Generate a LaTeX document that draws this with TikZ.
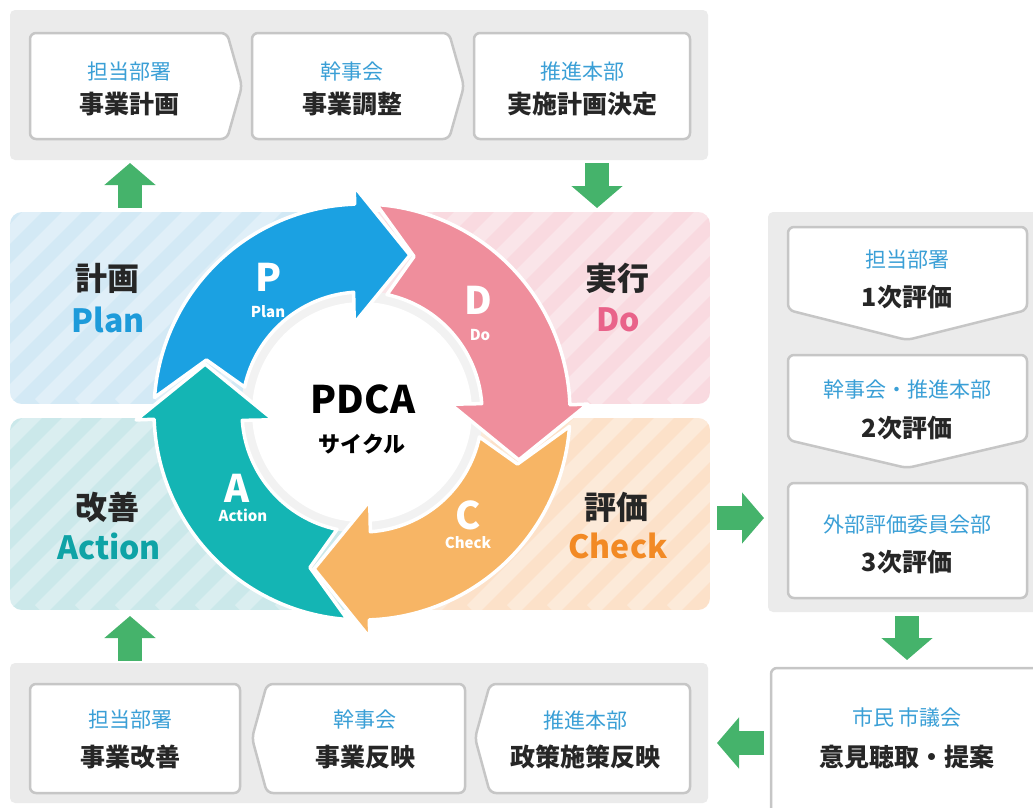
\documentclass[tikz,border=0pt]{standalone}
\usepackage{fontspec}
\setmainfont{Noto Sans CJK JP}
\usetikzlibrary{arrows.meta}
\usetikzlibrary{positioning}

\definecolor{panelgray}{HTML}{EBEBEB}
\definecolor{boxline}{HTML}{C6C6C6}
\definecolor{orgblue}{HTML}{3A9FD6}
\definecolor{flowgreen}{HTML}{45B36B}
\definecolor{planblue}{HTML}{1BA1E2}
\definecolor{dopink}{HTML}{EF8E9C}
\definecolor{checkorange}{HTML}{F7B565}
\definecolor{actteal}{HTML}{14B5B4}
\definecolor{planbg}{HTML}{D3E9F5}
\definecolor{dobg}{HTML}{F9DAE0}
\definecolor{actbg}{HTML}{CBE8EA}
\definecolor{checkbg}{HTML}{FCE1C9}
\definecolor{plantext}{HTML}{1E9BDA}
\definecolor{dotext}{HTML}{E9638A}
\definecolor{acttext}{HTML}{0FA3A6}
\definecolor{checktext}{HTML}{F28A25}

% striped quarter panel: colour, x1, y1, x2, y2
\newcommand{\hatchpanel}[5]{%
  \begin{scope}
    \clip[rounded corners=12pt] (#2,#3) rectangle (#4,#5);
    \fill[#1] (#2,#3) rectangle (#4,#5);
    \foreach \s in {0,40,...,600}
      \draw[white, opacity=.3, line width=14pt] ({#2+\s-250},#5) -- ++(250,-250);
  \end{scope}}

% one quarter of the cycle: rotation, colour
\newcommand{\cyclearrow}[2]{%
  \filldraw[fill=#2, draw=white, line width=3.5pt, line join=round, rotate=#1]
    (176:208) arc[start angle=176, end angle=92, radius=208]
    -- (92:226) -- (73:164) -- (95:89) -- (94:120)
    arc[start angle=94, end angle=168, radius=120]
    -- (161.5:164) -- cycle;}

\begin{document}
\begin{tikzpicture}[x=1pt,y=-1pt,
  panel/.style={fill=panelgray, rounded corners=5pt},
  stepbox/.style={draw=boxline, line width=2.5pt, fill=white, rounded corners=6pt, line join=round},
  who/.style={text=orgblue, font=\fontsize{21}{21}\selectfont},
  what/.style={text=black!85, font=\bfseries\fontsize{25}{25}\selectfont},
  flow/.style={draw=flowgreen, line width=24pt, -{Triangle[length=22pt,width=50pt]}},
  big/.style={font=\bfseries\fontsize{32}{32}\selectfont},
  ringletter/.style={text=white, font=\bfseries\fontsize{38}{38}\selectfont},
  ringword/.style={text=white, font=\bfseries\fontsize{15}{15}\selectfont},
  ]
  \useasboundingbox (0,0) rectangle (1033,807);

  %gray panels
  \fill[panel] (10,10) rectangle (708,160);
  \fill[panel] (768,212) rectangle (1045,612);
  \fill[panel] (10,663) rectangle (708,803);

  %top row: plan steps
  \draw[stepbox] (30,33) -- (227,33) -- (242,86) -- (227,139) -- (30,139) -- cycle;
  \draw[stepbox] (252,33) -- (449,33) -- (464,86) -- (449,139) -- (252,139) -- cycle;
  \draw[stepbox] (474,33) rectangle (690,139);
  \node[who] (t1a) at (129,72) {担当部署};
  \node[what] (t1b) at (129,104) {事業計画};
  \node[who] (t2a) at (352,72) {幹事会};
  \node[what] (t2b) at (352,104) {事業調整};
  \node[who] (t3a) at (582,72) {推進本部};
  \node[what] (t3b) at (582,104) {実施計画決定};

  %right column: evaluation steps
  \draw[stepbox] (788,227) -- (1027,227) -- (1027,310) -- (907,340) -- (788,310) -- cycle;
  \draw[stepbox] (788,355) -- (1027,355) -- (1027,440) -- (907,468) -- (788,440) -- cycle;
  \draw[stepbox] (788,483) rectangle (1027,598);
  \node[who] (e1a) at (907,260) {担当部署};
  \node[what] (e1b) at (907,297) {1次評価};
  \node[who] (e2a) at (907,390) {幹事会・推進本部};
  \node[what] (e2b) at (907,428) {2次評価};
  \node[who] (e3a) at (907,525) {外部評価委員会部};
  \node[what] (e3b) at (907,562) {3次評価};

  %bottom row: improvement steps
  \draw[stepbox] (30,684) rectangle (240,793);
  \draw[stepbox] (267,684) -- (465,684) -- (465,793) -- (267,793) -- (252,738) -- cycle;
  \draw[stepbox] (490,684) -- (690,684) -- (690,793) -- (490,793) -- (475,738) -- cycle;
  \draw[stepbox] (771,668) rectangle (1045,815);
  \node[who] (b1a) at (130,720) {担当部署};
  \node[what] (b1b) at (130,757) {事業改善};
  \node[who] (b2a) at (365,720) {幹事会};
  \node[what] (b2b) at (365,757) {事業反映};
  \node[who] (b3a) at (585,720) {推進本部};
  \node[what] (b3b) at (585,757) {政策施策反映};
  \node[who] (c1a) at (907,718) {市民 市議会};
  \node[what] (c1b) at (907,757) {意見聴取・提案};

  %quarter panels
  \hatchpanel{planbg}{10}{212}{362}{404}
  \hatchpanel{dobg}{362}{212}{710}{404}
  \hatchpanel{actbg}{10}{418}{362}{610}
  \hatchpanel{checkbg}{362}{418}{710}{610}
  \node[big, text=black!85] (plj) at (107,278) {計画};
  \node[big, text=plantext] (ple) at (108,320) {Plan};
  \node[big, text=black!85] (doj) at (617,278) {実行};
  \node[big, text=dotext] (doe) at (618,320) {Do};
  \node[big, text=black!85] (acj) at (107,507) {改善};
  \node[big, text=acttext] (ace) at (109,546) {Action};
  \node[big, text=black!85] (chj) at (616,507) {評価};
  \node[big, text=checktext] (che) at (618,546) {Check};

  %cycle
  \begin{scope}[shift={(362,412)},x=1pt,y=1pt]
    \fill[black!5] (0,0) circle (121);
    \fill[white] (0,0) circle (110);
    \cyclearrow{0}{planblue}
    \cyclearrow{-90}{dopink}
    \cyclearrow{-180}{checkorange}
    \cyclearrow{90}{actteal}
  \end{scope}
  \node[ringletter] (rp) at (269,277) {P};
  \node[ringword] (rpw) at (268,312) {Plan};
  \node[ringletter] (rd) at (478,300) {D};
  \node[ringword] (rdw) at (480,335) {Do};
  \node[ringletter] (rc) at (468,515) {C};
  \node[ringword] (rcw) at (468,543) {Check};
  \node[ringletter] (ra) at (237,488) {A};
  \node[ringword] (raw) at (243,515) {Action};
  \node[font=\bfseries\fontsize{38}{38}\selectfont] (pdca) at (363,399) {PDCA};
  \node[font=\bfseries\fontsize{22}{22}\selectfont] (cyc) at (362,444) {サイクル};

  %green flow arrows
  \coordinate (f1s) at (130,208);  \coordinate (f1e) at (130,163);
  \coordinate (f2s) at (597,163);  \coordinate (f2e) at (597,208);
  \coordinate (f3s) at (717,518);  \coordinate (f3e) at (764,518);
  \coordinate (f4s) at (907,616);  \coordinate (f4e) at (907,660);
  \coordinate (f5s) at (764,743);  \coordinate (f5e) at (717,743);
  \coordinate (f6s) at (130,661);  \coordinate (f6e) at (130,616);
  \draw[flow] (f1s) -- (f1e);
  \draw[flow] (f2s) -- (f2e);
  \draw[flow] (f3s) -- (f3e);
  \draw[flow] (f4s) -- (f4e);
  \draw[flow] (f5s) -- (f5e);
  \draw[flow] (f6s) -- (f6e);
\end{tikzpicture}
\end{document}
